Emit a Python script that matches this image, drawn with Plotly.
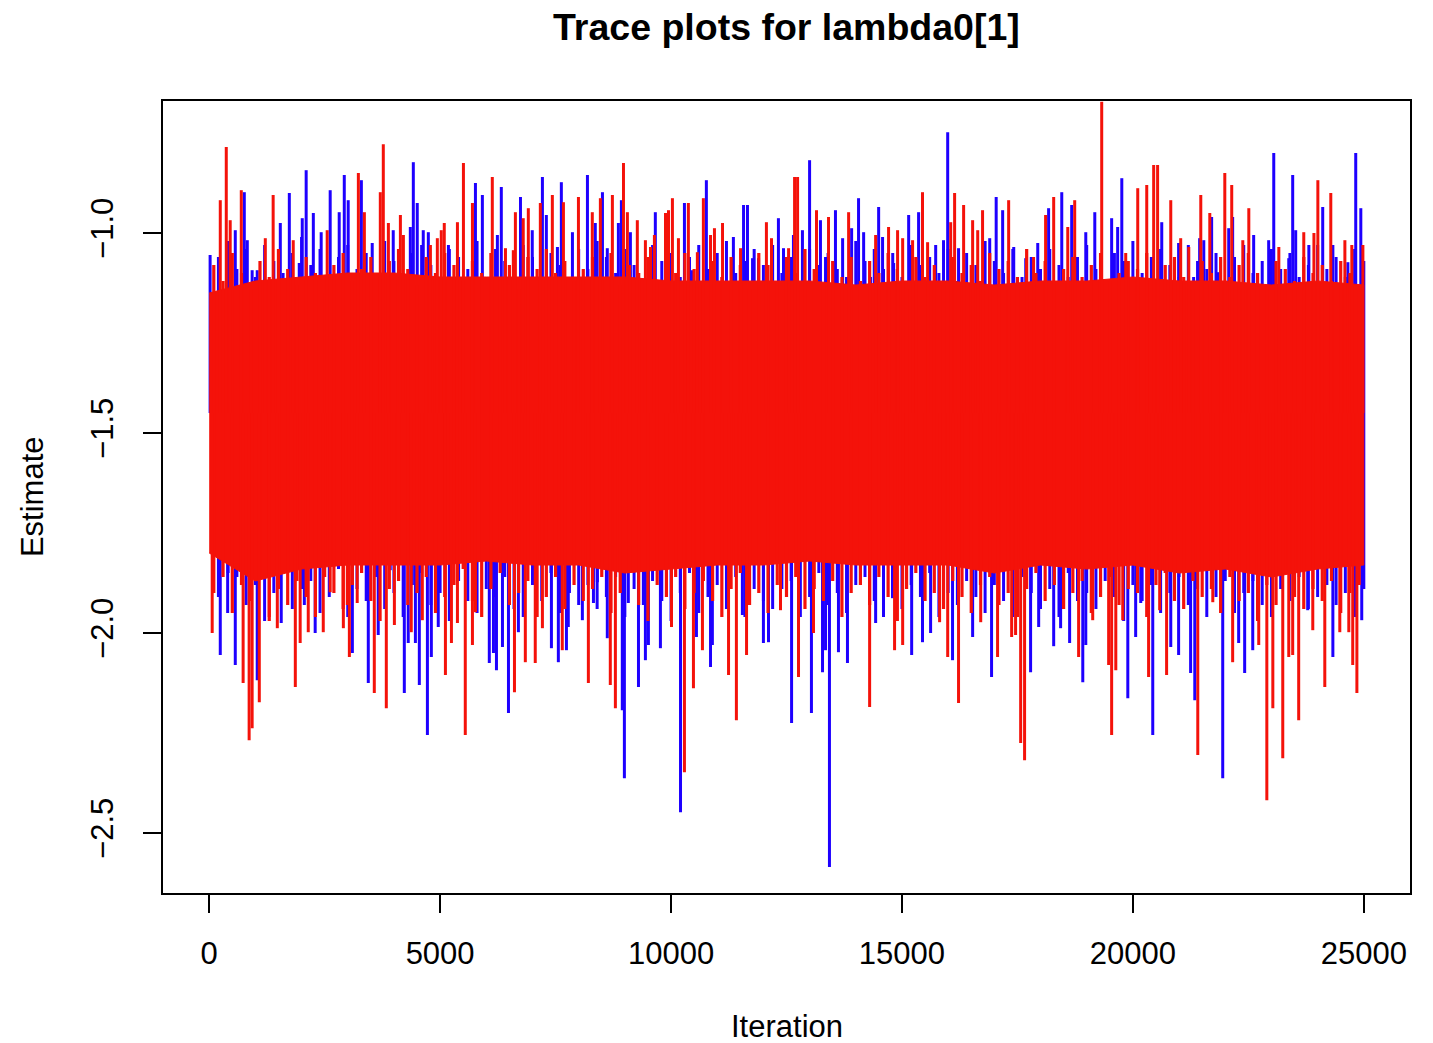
import plotly.graph_objects as go

# MCMC trace for lambda0[1]: two chains, 25000 iterations each.
# Each chain is summarised by its larger excursions (local extremes),
# its typical extremes every 200 iterations, and the dense core of the red chain.

chain_center = -1.45

red_peak_iter = [240, 370, 455, 695, 1215, 1385, 1820, 2555, 3230, 3360, 3705, 3770, 3880, 4140, 4205,
                 4790, 4940, 5025, 5090, 5375, 5505, 5700, 6130, 6415, 6585, 6630, 6800, 6910, 7170, 7430,
                 7670, 7995, 8295, 8470, 8730, 8970, 9055, 9270, 9445, 9555, 9640, 9880, 9945, 10030, 10160,
                 10375, 10570, 10700, 10855, 10940, 11115, 11505, 12065, 12175, 12545, 12675, 12740, 13150,
                 13410, 13845, 14430, 14710, 14905, 15015, 15230, 15445, 15555, 16055, 16140, 16335, 16530,
                 16640, 16745, 17310, 17850, 18110, 18285, 18590, 18740, 19325, 19845, 20105, 20300, 20450,
                 20535, 20820, 21035, 21210, 21470, 21665, 21990, 22140, 22380, 22510, 23160, 23700, 23920,
                 24005, 24285, 24590, 24740, 24980]
red_peak_val = [-0.918, -0.785, -0.968, -0.893, -1.013, -0.905, -1.018, -0.993, -0.850, -0.948, -0.898,
                -0.778, -0.975, -0.955, -1.005, -1.030, -1.013, -0.993, -0.975, -0.973, -0.825, -0.925,
                -0.860, -1.038, -1.043, -0.948, -0.963, -0.938, -0.925, -0.905, -0.923, -0.910, -0.948,
                -0.913, -0.905, -0.825, -0.948, -0.968, -1.018, -1.035, -1.005, -0.950, -0.943, -0.913,
                -1.013, -0.925, -1.048, -0.913, -1.005, -0.988, -0.975, -1.038, -0.973, -1.013, -1.038,
                -0.860, -0.860, -0.943, -0.960, -0.948, -1.005, -0.985, -0.993, -1.013, -1.018, -0.898,
                -1.023, -0.973, -0.900, -0.930, -0.968, -0.993, -0.943, -0.918, -1.060, -0.955, -0.910,
                -0.985, -0.918, -0.672, -1.050, -0.888, -0.880, -0.830, -0.830, -0.918, -1.013, -1.035,
                -0.905, -0.950, -0.850, -0.880, -1.018, -0.938, -1.035, -0.998, -1.000, -0.868, -0.900,
                -1.018, -1.030, -1.030]

red_trough_iter = [65, 735, 865, 930, 1085, 1300, 1475, 1865, 1970, 2145, 2470, 2620, 2905, 2990, 3035,
                   3205, 3575, 3835, 4010, 4375, 4615, 5115, 5245, 5375, 5545, 5700, 5765, 6610, 6845, 7060,
                   7215, 7645, 8210, 8685, 8795, 10010, 10290, 10485, 10680, 11245, 11415, 11635, 12370,
                   12760, 13085, 14300, 14840, 15015, 15815, 15990, 16225, 16705, 17070, 17375, 17460, 17570,
                   17655, 18825, 19130, 19475, 19540, 19630, 19780, 20340, 20580, 20730, 21405, 21730, 22160,
                   22725, 22900, 23030, 23245, 23375, 23460, 23590, 23895, 24155, 24480, 24675, 24760, 24850]
red_trough_val = [-2.000, -2.125, -2.268, -2.238, -2.173, -1.960, -1.988, -2.135, -2.025, -1.998, -1.998,
                  -1.898, -1.988, -1.930, -2.060, -1.925, -2.150, -2.188, -1.980, -1.998, -1.968, -2.105,
                  -2.025, -1.975, -2.255, -2.030, -1.948, -2.148, -2.073, -2.075, -1.988, -2.043, -2.125,
                  -2.130, -2.188, -1.985, -2.348, -2.138, -2.043, -2.105, -2.218, -2.055, -1.943, -2.110,
                  -2.000, -2.185, -2.043, -2.030, -1.973, -2.060, -2.175, -1.973, -2.060, -2.010, -2.005,
                  -2.275, -2.318, -2.060, -1.968, -2.080, -2.255, -2.093, -1.968, -2.110, -1.943, -2.105,
                  -2.305, -1.923, -2.073, -2.030, -2.418, -2.188, -2.313, -2.060, -2.055, -2.218, -1.993,
                  -2.135, -1.998, -1.998, -2.080, -2.150]

blue_peak_iter = [20, 565, 760, 825, 930, 1040, 1540, 1735, 1950, 2015, 2100, 2255, 2425, 2620, 2815, 2925,
                  3010, 3295, 3530, 3640, 3985, 4355, 4420, 4505, 4635, 4745, 5180, 5765, 5915, 6240, 6325,
                  6740, 6995, 7215, 7300, 7540, 7625, 7865, 8190, 8360, 8515, 8620, 8860, 8925, 9120, 9660,
                  10290, 10465, 10765, 11350, 11570, 11655, 11765, 11895, 12325, 12435, 12650, 12845, 13000,
                  13235, 13345, 13560, 13715, 13910, 14060, 14170, 14320, 14495, 14580, 14820, 15145, 15360,
                  15730, 15900, 15990, 16225, 16900, 17040, 17180, 17420, 17680, 17940, 18175, 18460, 18675,
                  18980, 19175, 19540, 19670, 19760, 20625, 20990, 21315, 21445, 21535, 21705, 21835, 22075,
                  22160, 22615, 22770, 22940, 23050, 23375, 23460, 23525, 23810, 24110, 24330, 24655, 24825,
                  24935]
blue_peak_val = [-1.055, -0.993, -0.898, -1.018, -1.093, -1.093, -0.975, -0.900, -1.075, -0.963, -0.843,
                 -0.950, -0.998, -0.893, -0.948, -0.855, -0.918, -0.868, -1.025, -1.113, -0.993, -0.985,
                 -0.823, -0.925, -0.993, -0.998, -1.030, -0.875, -0.905, -1.005, -0.885, -0.910, -0.993,
                 -0.860, -0.955, -1.035, -0.873, -0.998, -0.855, -0.975, -0.898, -1.038, -0.975, -0.918,
                 -0.998, -0.948, -0.925, -1.093, -0.868, -1.010, -0.930, -0.930, -1.063, -1.063, -0.963,
                 -1.038, -1.005, -0.993, -0.818, -0.968, -1.060, -0.943, -1.013, -0.988, -0.913, -0.998,
                 -1.110, -0.935, -1.010, -1.075, -0.955, -0.948, -1.030, -1.018, -0.748, -1.038, -1.013,
                 -0.910, -0.943, -1.035, -1.063, -1.025, -0.938, -0.898, -0.930, -0.998, -0.948, -0.963,
                 -0.985, -0.863, -0.973, -1.025, -1.110, -1.013, -1.018, -0.960, -1.098, -0.988, -0.960,
                 -1.005, -1.138, -1.018, -0.800, -1.063, -0.855, -0.993, -1.030, -0.935, -1.030, -1.073,
                 -0.800, -0.938]

blue_trough_iter = [240, 410, 565, 1040, 1215, 1560, 1625, 2060, 2295, 3100, 3270, 3445, 3660, 3920, 4225,
                    4310, 4465, 4550, 4725, 4810, 4960, 6065, 6155, 6220, 6350, 6480, 6695, 7410, 7560, 7735,
                    7775, 8080, 8320, 8405, 8620, 8945, 8990, 9075, 9295, 9445, 9510, 9770, 10205, 10550,
                    10855, 10895, 11545, 12000, 12110, 12610, 13040, 13280, 13345, 13430, 13625, 13820, 14430,
                    14795, 15210, 15445, 15620, 16095, 16530, 16940, 17785, 17960, 18285, 18435, 18630, 18915,
                    18980, 19890, 20060, 20170, 20430, 20820, 20990, 21250, 21340, 21945, 22290, 22420, 22595,
                    23785, 24330, 24955]
blue_trough_val = [-2.055, -1.850, -2.080, -2.118, -1.843, -1.975, -1.843, -1.930, -2.000, -2.050, -1.800,
                   -2.125, -2.005, -1.843, -2.150, -2.025, -2.025, -2.130, -2.255, -2.060, -1.985, -2.075,
                   -2.050, -2.093, -2.035, -2.200, -1.998, -2.038, -2.073, -2.043, -1.985, -1.968, -1.925,
                   -1.873, -2.013, -2.193, -2.363, -1.925, -2.135, -2.068, -2.030, -2.038, -2.448, -2.010,
                   -2.085, -2.030, -1.955, -2.025, -2.023, -2.225, -2.200, -2.098, -2.043, -2.585, -2.048,
                   -2.075, -1.975, -1.913, -2.055, -2.023, -2.000, -2.068, -2.010, -2.110, -2.098, -1.985,
                   -2.033, -1.988, -2.025, -2.123, -2.030, -2.163, -2.010, -1.925, -2.255, -2.035, -2.055,
                   -2.100, -2.168, -2.363, -2.025, -2.100, -2.043, -1.943, -2.060, -1.968]

# Typical high / low of each chain within successive 200-iteration windows
red_window_iter = list(range(100, 25000, 200))
red_window_hi = [
    -1.08, -1.12, -1.05, -1.10, -1.14, -1.07, -1.11, -1.04, -1.09, -1.13,
    -1.06, -1.10, -1.15, -1.08, -1.05, -1.12, -1.09, -1.06, -1.11, -1.07,
    -1.04, -1.09, -1.13, -1.06, -1.10, -1.05, -1.08, -1.12, -1.07, -1.10,
    -1.05, -1.11, -1.08, -1.14, -1.06, -1.09, -1.04, -1.10, -1.07, -1.12,
    -1.09, -1.06, -1.11, -1.05, -1.13, -1.08, -1.10, -1.06, -1.12, -1.07,
    -1.10, -1.05, -1.09, -1.13, -1.07, -1.11, -1.06, -1.08, -1.14, -1.05,
    -1.08, -1.12, -1.06, -1.10, -1.04, -1.09, -1.13, -1.07, -1.11, -1.06,
    -1.12, -1.07, -1.10, -1.05, -1.09, -1.14, -1.06, -1.11, -1.08, -1.13,
    -1.06, -1.10, -1.08, -1.12, -1.05, -1.09, -1.07, -1.11, -1.04, -1.10,
    -1.07, -1.13, -1.09, -1.06, -1.11, -1.08, -1.05, -1.12, -1.10, -1.07,
    -1.09, -1.05, -1.12, -1.08, -1.06, -1.11, -1.14, -1.07, -1.10, -1.06,
    -1.11, -1.08, -1.05, -1.10, -1.13, -1.07, -1.09, -1.12, -1.06, -1.10,
    -1.08, -1.12, -1.07, -1.10, -1.14]
red_window_lo = [
    -1.90, -1.86, -1.95, -1.88, -1.92, -1.85, -1.97, -1.89, -1.93, -1.87,
    -1.91, -1.96, -1.86, -1.90, -1.94, -1.88, -1.85, -1.92, -1.97, -1.89,
    -1.87, -1.93, -1.90, -1.86, -1.95, -1.91, -1.88, -1.84, -1.92, -1.96,
    -1.89, -1.85, -1.93, -1.90, -1.87, -1.96, -1.91, -1.86, -1.94, -1.88,
    -1.92, -1.89, -1.86, -1.95, -1.90, -1.85, -1.93, -1.97, -1.88, -1.91,
    -1.86, -1.94, -1.90, -1.87, -1.92, -1.96, -1.89, -1.85, -1.93, -1.90,
    -1.95, -1.88, -1.91, -1.86, -1.94, -1.89, -1.92, -1.87, -1.96, -1.90,
    -1.88, -1.93, -1.86, -1.91, -1.97, -1.89, -1.85, -1.92, -1.90, -1.94,
    -1.87, -1.91, -1.95, -1.88, -1.86, -1.93, -1.90, -1.96, -1.89, -1.85,
    -1.92, -1.88, -1.94, -1.90, -1.87, -1.95, -1.91, -1.86, -1.93, -1.89,
    -1.90, -1.96, -1.88, -1.85, -1.92, -1.94, -1.87, -1.91, -1.89, -1.95,
    -1.86, -1.92, -1.90, -1.97, -1.88, -1.93, -1.85, -1.91, -1.94, -1.89,
    -1.92, -1.87, -1.95, -1.90, -1.88]

blue_window_iter = list(range(200, 25001, 200))
blue_window_hi = [
    -1.06, -1.02, -1.09, -1.04, -1.11, -1.03, -1.07, -1.10, -1.05, -1.01,
    -1.08, -1.04, -1.12, -1.06, -1.03, -1.09, -1.05, -1.11, -1.02, -1.07,
    -1.10, -1.05, -1.03, -1.08, -1.12, -1.04, -1.06, -1.09, -1.02, -1.11,
    -1.04, -1.07, -1.10, -1.03, -1.06, -1.12, -1.05, -1.08, -1.11, -1.04,
    -1.09, -1.02, -1.06, -1.10, -1.04, -1.08, -1.12, -1.03, -1.07, -1.05,
    -1.11, -1.06, -1.03, -1.09, -1.05, -1.02, -1.10, -1.07, -1.04, -1.08,
    -1.03, -1.10, -1.06, -1.12, -1.04, -1.08, -1.05, -1.09, -1.11, -1.02,
    -1.07, -1.04, -1.09, -1.05, -1.11, -1.03, -1.08, -1.06, -1.10, -1.04,
    -1.12, -1.05, -1.08, -1.02, -1.07, -1.10, -1.04, -1.11, -1.06, -1.09,
    -1.04, -1.08, -1.11, -1.06, -1.03, -1.09, -1.12, -1.05, -1.07, -1.02,
    -1.10, -1.06, -1.04, -1.08, -1.11, -1.03, -1.07, -1.09, -1.05, -1.12,
    -1.06, -1.03, -1.10, -1.07, -1.04, -1.09, -1.05, -1.11, -1.08, -1.03,
    -1.09, -1.06, -1.11, -1.04, -1.07]
blue_window_lo = [
    -1.91, -1.95, -1.86, -1.93, -1.88, -1.97, -1.90, -1.85, -1.94, -1.89,
    -1.87, -1.95, -1.91, -1.84, -1.96, -1.89, -1.92, -1.86, -1.94, -1.90,
    -1.96, -1.88, -1.85, -1.93, -1.90, -1.97, -1.87, -1.92, -1.95, -1.89,
    -1.91, -1.86, -1.94, -1.96, -1.88, -1.92, -1.85, -1.95, -1.90, -1.93,
    -1.88, -1.94, -1.91, -1.86, -1.96, -1.89, -1.93, -1.87, -1.92, -1.97,
    -1.90, -1.85, -1.95, -1.91, -1.88, -1.94, -1.86, -1.96, -1.89, -1.92,
    -1.94, -1.89, -1.87, -1.96, -1.91, -1.85, -1.93, -1.90, -1.95, -1.88,
    -1.86, -1.92, -1.96, -1.89, -1.94, -1.88, -1.91, -1.85, -1.96, -1.90,
    -1.93, -1.87, -1.91, -1.95, -1.88, -1.92, -1.96, -1.86, -1.90, -1.94,
    -1.89, -1.96, -1.85, -1.92, -1.90, -1.94, -1.87, -1.91, -1.97, -1.88,
    -1.92, -1.88, -1.95, -1.90, -1.86, -1.93, -1.89, -1.96, -1.91, -1.87,
    -1.95, -1.90, -1.87, -1.93, -1.96, -1.89, -1.92, -1.86, -1.94, -1.91,
    -1.88, -1.93, -1.90, -1.96, -1.89]

# Dense core of the red chain, sampled every 1000 iterations
band_iter = [0, 1000, 2000, 3000, 4000, 5000, 6000, 7000, 8000, 9000, 10000, 11000, 12000, 13000,
             14000, 15000, 16000, 17000, 18000, 19000, 20000, 21000, 22000, 23000, 24000, 25000]
red_band_hi = [-1.15, -1.12, -1.11, -1.10, -1.10, -1.11, -1.11, -1.11, -1.11, -1.11, -1.12, -1.12, -1.12,
               -1.12, -1.13, -1.12, -1.12, -1.13, -1.12, -1.12, -1.11, -1.12, -1.12, -1.13, -1.12, -1.13]
red_band_lo = [-1.80, -1.87, -1.84, -1.83, -1.83, -1.83, -1.82, -1.83, -1.83, -1.85, -1.84, -1.83, -1.83,
               -1.82, -1.83, -1.83, -1.83, -1.85, -1.83, -1.84, -1.83, -1.85, -1.84, -1.86, -1.84, -1.83]

x_ticks = [0, 5000, 10000, 15000, 20000, 25000]
x_tick_text = ["0", "5000", "10000", "15000", "20000", "25000"]
y_ticks = [-2.5, -2.0, -1.5, -1.0]
y_tick_text = ["\u22122.5", "\u22122.0", "\u22121.5", "\u22121.0"]

RED = "#f4120a"
BLUE = "#1e00ff"
FONT = "Liberation Sans"


def excursions(iters, vals, base):
    """Vertical strokes from the chain centre out to each extreme value."""
    xs, ys = [], []
    for it, v in zip(iters, vals):
        xs += [it, it, None]
        ys += [base, v, None]
    return xs, ys


def add_strokes(fig, iters, vals, color, width):
    xs, ys = excursions(iters, vals, chain_center)
    fig.add_trace(go.Scatter(x=xs, y=ys, mode="lines", line=dict(color=color, width=width),
                             hoverinfo="skip", showlegend=False))


fig = go.Figure()

# blue chain underneath
add_strokes(fig, blue_window_iter, blue_window_hi, BLUE, 3.0)
add_strokes(fig, blue_window_iter, blue_window_lo, BLUE, 3.0)
add_strokes(fig, blue_peak_iter, blue_peak_val, BLUE, 3.0)
add_strokes(fig, blue_trough_iter, blue_trough_val, BLUE, 3.0)

# red chain on top
fig.add_trace(go.Scatter(
    x=band_iter + band_iter[::-1],
    y=red_band_hi + red_band_lo[::-1],
    mode="lines", fill="toself", fillcolor=RED, line=dict(color=RED, width=1),
    hoverinfo="skip", showlegend=False))
add_strokes(fig, red_window_iter, red_window_hi, RED, 3.2)
add_strokes(fig, red_window_iter, red_window_lo, RED, 3.2)
add_strokes(fig, red_peak_iter, red_peak_val, RED, 3.0)
add_strokes(fig, red_trough_iter, red_trough_val, RED, 3.0)

axis_common = dict(
    showgrid=False, zeroline=False, showline=True, mirror=True,
    linecolor="black", linewidth=1.5,
    ticks="outside", ticklen=18, tickwidth=1.5, tickcolor="black",
    tickfont=dict(family=FONT, size=31, color="black"),
)

fig.update_layout(
    width=1433, height=1043,
    margin=dict(l=163, r=23, t=101, b=150),
    paper_bgcolor="white", plot_bgcolor="white",
    font=dict(family=FONT, color="black"),
    xaxis=dict(range=[-1000, 26000], tickvals=x_ticks, ticktext=x_tick_text,
               ticklabelstandoff=14, **axis_common),
    yaxis=dict(range=[-2.65, -0.67], tickvals=y_ticks, ticktext=y_tick_text, tickangle=-90,
               ticklabelstandoff=18, **axis_common),
    annotations=[
        dict(text="<b>Trace plots for lambda0[1]</b>", xref="paper", yref="paper",
             x=0.5, y=1.0934, xanchor="center", yanchor="middle", showarrow=False,
             font=dict(family=FONT, size=37.5, color="black")),
        dict(text="Iteration", xref="paper", yref="paper", x=0.5, y=-0.168,
             xanchor="center", yanchor="middle", showarrow=False,
             font=dict(family=FONT, size=31, color="black")),
        dict(text="Estimate", xref="paper", yref="paper", x=-0.105, y=0.5, textangle=-90,
             xanchor="center", yanchor="middle", showarrow=False,
             font=dict(family=FONT, size=31, color="black")),
    ],
)

fig.write_html("out.html")
